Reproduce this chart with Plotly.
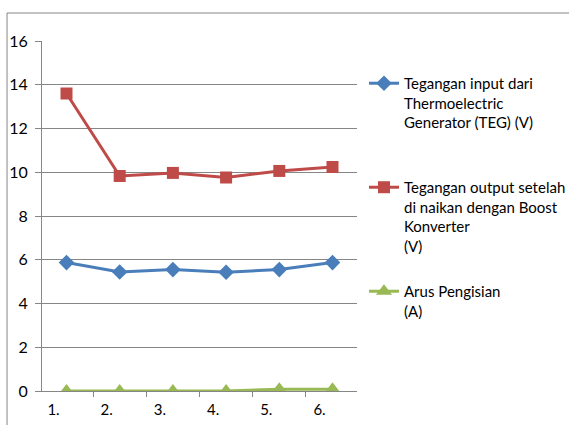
import plotly.graph_objects as go

categories = ["1.", "2.", "3.", "4.", "5.", "6."]
teg_input = [5.87, 5.44, 5.55, 5.43, 5.55, 5.87]
boost_output = [13.6, 9.83, 9.97, 9.76, 10.06, 10.24]
arus = [0.0, 0.0, 0.0, 0.0, 0.08, 0.08]

names = [
    "Tegangan input dari<br>Thermoelectric<br>Generator (TEG) (V)<br> ",
    "Tegangan output setelah<br>di naikan dengan Boost<br>Konverter<br>(V)",
    "Arus Pengisian<br>(A)",
]
y_ticks = [0, 2, 4, 6, 8, 10, 12, 14, 16]

FONT = "Lato, Carlito, Calibri, sans-serif"
colors = ["#4A7EBB", "#BE4B48", "#98B954"]
symbols = ["diamond", "square", "triangle-up"]
sizes = [12, 12, 14]

fig = go.Figure()
for i, vals in enumerate([teg_input, boost_output, arus]):
    fig.add_trace(go.Scatter(
        x=categories, y=vals, name=names[i], mode="lines+markers",
        legendgroup=f"g{i}",
        line=dict(color=colors[i], width=3),
        marker=dict(symbol=symbols[i], size=sizes[i], color=colors[i]),
    ))

fig.update_layout(
    width=569, height=425,
    margin=dict(l=42, r=212, t=41, b=34),
    paper_bgcolor="white", plot_bgcolor="white",
    font=dict(family=FONT, size=15, color="#000000"),
    showlegend=True,
    legend=dict(xref="container", yref="container",
                x=0.6397, xanchor="left", y=0.8424, yanchor="top",
                valign="top", tracegroupgap=23, maxheight=400,
                font=dict(family=FONT, size=15, color="#000000"),
                bgcolor="rgba(0,0,0,0)"),
    xaxis=dict(type="category", tickson="boundaries", ticks="outside",
               ticklen=5, tickcolor="#868686", showgrid=False,
               showline=True, linecolor="#868686", linewidth=1,
               ticklabelshift=-13, ticklabelstandoff=5, automargin=False,
               tickfont=dict(family=FONT, size=15, color="#000000")),
    yaxis=dict(range=[0, 16], tickvals=y_ticks, ticks="outside",
               ticklen=6, tickcolor="#868686", showgrid=True,
               gridcolor="#868686", gridwidth=1, showline=True,
               linecolor="#868686", linewidth=1, zeroline=False,
               ticklabelstandoff=4, automargin=False,
               tickfont=dict(family=FONT, size=16, color="#000000")),
    shapes=[dict(type="rect", xref="paper", yref="paper",
                 x0=-0.111, y0=-0.3, x1=1.9, y1=1.08,
                 line=dict(color="#868686", width=1),
                 fillcolor="rgba(0,0,0,0)", layer="below")],
)

fig.write_html("out.html", config={"displayModeBar": False},
               post_script="document.body.style.margin='0';document.body.style.overflow='hidden';")
